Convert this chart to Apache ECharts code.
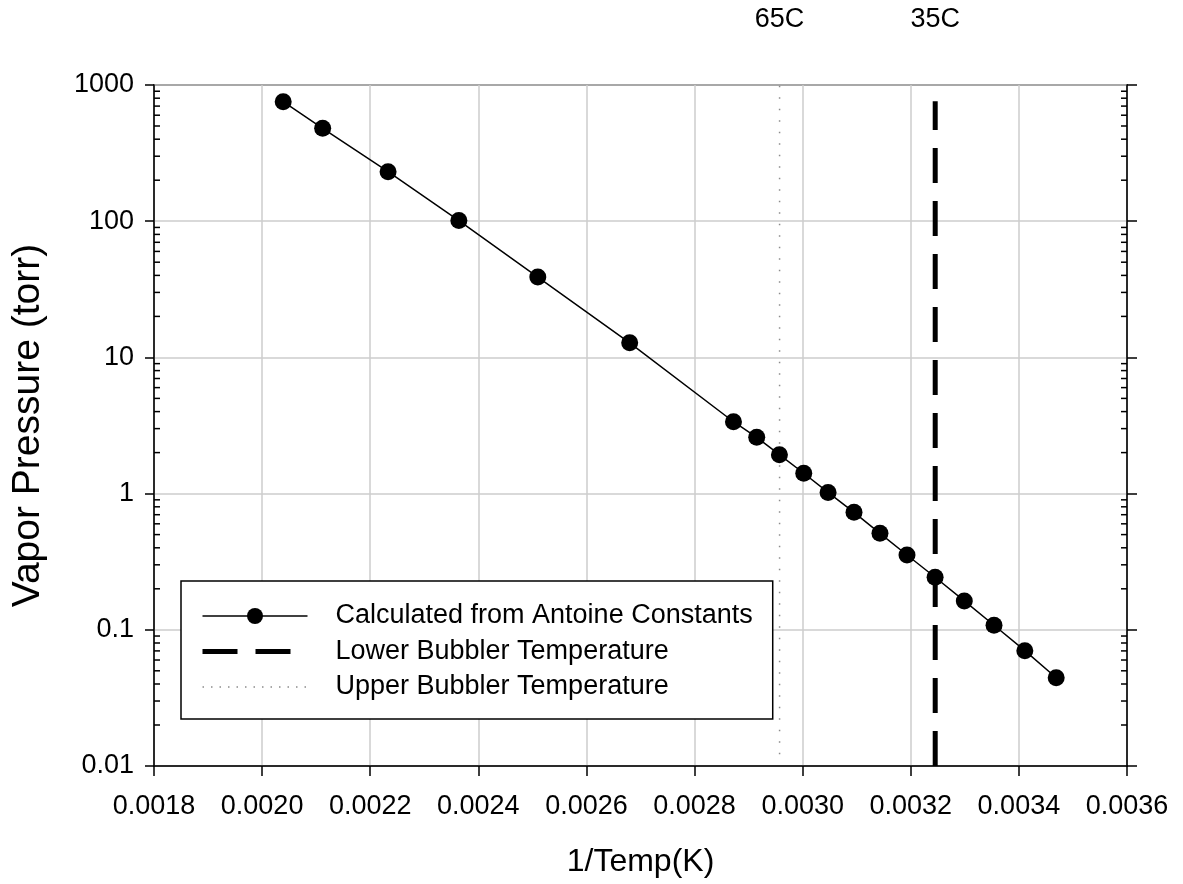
<!DOCTYPE html>
<html>
<head>
<meta charset="utf-8">
<script src="https://cdn.jsdelivr.net/npm/echarts@6/dist/echarts.min.js"></script>
<style>
html,body{margin:0;padding:0;background:#fff;}
#chart{width:1183px;height:884px;}
</style>
</head>
<body>
<div id="chart"></div>
<script>
// ---- data ----
const invTemp = [0.002039, 0.002112, 0.002233, 0.002364, 0.002510, 0.002680, 0.002872, 0.002915, 0.002957, 0.003002, 0.003047, 0.003095, 0.003143, 0.003193, 0.003245, 0.003299, 0.003354, 0.003411, 0.003469];
const vaporPressure = [754, 481, 231, 101, 38.9, 12.8, 3.37, 2.59, 1.93, 1.41, 1.02, 0.729, 0.511, 0.354, 0.243, 0.163, 0.108, 0.0703, 0.0445];

const upperBubblerX = 0.0029573;   // 65C
const upperBubblerY = [0.0122, 1000];
const lowerBubblerX = 0.0032452;   // 35C
const lowerBubblerY = [0.01, 760];

const markerLabels = ['65C', '35C'];
const markerX = [upperBubblerX, lowerBubblerX];

const seriesNames = ['Calculated from Antoine Constants', 'Lower Bubbler Temperature', 'Upper Bubbler Temperature'];
const yDecades = [0.01, 0.1, 1, 10, 100];
const minorFactors = [2, 3, 4, 5, 6, 7, 8, 9];

const X_MIN = 0.0018, X_MAX = 0.0036, Y_MIN = 0.01, Y_MAX = 1000;

const minorTickValues = [];
yDecades.forEach(d => minorFactors.forEach(f => minorTickValues.push(d * f)));

const FONT = '"Liberation Sans", Arial, Helvetica, sans-serif';

const chart = echarts.init(document.getElementById('chart'), null, {renderer: 'canvas'});

const option = {
  backgroundColor: '#fff',
  animation: false,
  textStyle: {fontFamily: FONT, color: '#000'},
  grid: {left: 154, right: 56, top: 85, bottom: 118, show: true, borderColor: '#000', borderWidth: 1.5, backgroundColor: 'transparent'},
  legend: {
    data: [
      {name: seriesNames[0], lineStyle: {width: 1.5}},
      {name: seriesNames[1], lineStyle: {width: 5}, itemStyle: {color: 'rgba(0,0,0,0)', borderWidth: 0}},
      {name: seriesNames[2], lineStyle: {width: 1.5, type: [1.5, 7]}, itemStyle: {color: 'rgba(0,0,0,0)', borderWidth: 0}}
    ],
    orient: 'vertical',
    left: 181, top: 581,
    backgroundColor: '#fff',
    borderColor: '#000',
    borderWidth: 1.5,
    borderRadius: 0,
    padding: [21.5, 20, 18.5, 19],
    itemWidth: 105,
    itemHeight: 20,
    itemGap: 8.5,
    selectedMode: false,
    textStyle: {fontFamily: FONT, fontSize: 27, color: '#000', padding: [0, 0, 0, 23]}
  },
  xAxis: [{
    type: 'value',
    min: X_MIN, max: X_MAX, interval: 0.0002,
    position: 'bottom',
    name: '1/Temp(K)',
    nameLocation: 'middle',
    nameGap: 80,
    nameTextStyle: {fontFamily: FONT, fontSize: 32, color: '#000'},
    axisLine: {show: true, lineStyle: {color: '#000', width: 1.5}},
    axisTick: {show: true, inside: false, length: 10, lineStyle: {color: '#000', width: 1.5}},
    axisLabel: {margin: 27, fontFamily: FONT, fontSize: 27, color: '#000', formatter: v => v.toFixed(4)},
    splitLine: {show: true, lineStyle: {color: '#cccccc', width: 1.5}}
  }],
  yAxis: [{
    type: 'log',
    logBase: 10,
    min: Y_MIN, max: Y_MAX,
    position: 'left',
    name: 'Vapor Pressure (torr)',
    nameLocation: 'middle',
    nameGap: 106,
    nameTextStyle: {fontFamily: FONT, fontSize: 39, color: '#000'},
    axisLine: {show: true, lineStyle: {color: '#000', width: 1.5}},
    axisTick: {show: true, inside: false, length: 9, lineStyle: {color: '#000', width: 1.5}},
    axisLabel: {margin: 20, fontFamily: FONT, fontSize: 27, color: '#000', formatter: v => String(Number(v.toPrecision(3)))},
    splitLine: {show: true, lineStyle: {color: '#cccccc', width: 1.5}}
  }, {
    type: 'log',
    logBase: 10,
    min: Y_MIN, max: Y_MAX,
    position: 'right',
    axisLine: {show: true, lineStyle: {color: '#000', width: 1.5}},
    axisTick: {show: true, inside: false, length: 10, lineStyle: {color: '#000', width: 1.5}},
    axisLabel: {show: false},
    splitLine: {show: false}
  }],
  series: [
    {
      name: seriesNames[0],
      type: 'line',
      data: invTemp.map((x, i) => [x, vaporPressure[i]]),
      symbol: 'circle',
      symbolSize: 17,
      lineStyle: {color: '#000', width: 1.5},
      itemStyle: {color: '#000'},
      z: 4
    },
    {
      name: seriesNames[1],
      type: 'line',
      data: lowerBubblerY.map(y => [lowerBubblerX, y]),
      symbol: 'none',
      lineStyle: {color: '#000', width: 5, type: [35, 18]},
      itemStyle: {color: '#000'},
      z: 3
    },
    {
      name: seriesNames[2],
      type: 'line',
      data: upperBubblerY.map(y => [upperBubblerX, y]),
      symbol: 'none',
      lineStyle: {color: '#8c8c8c', width: 1.5, type: [1.5, 10]},
      itemStyle: {color: '#8c8c8c'},
      z: 3
    },
    {
      name: 'minorTicks',
      type: 'custom',
      clip: false,
      silent: true,
      dimensions: ['v'],
      encode: {y: 0},
      data: minorTickValues.map(v => [v]),
      renderItem: function (params, api) {
        const v = api.value(0);
        const pl = api.coord([X_MIN, v]);
        const pr = api.coord([X_MAX, v]);
        const st = {stroke: '#000', lineWidth: 1.5};
        return {
          type: 'group',
          children: [
            {type: 'line', shape: {x1: pl[0], y1: pl[1], x2: pl[0] + 6, y2: pl[1]}, style: st},
            {type: 'line', shape: {x1: pr[0] - 6, y1: pr[1], x2: pr[0], y2: pr[1]}, style: st}
          ]
        };
      },
      z: 6
    }
  ]
};

chart.setOption(option);

// temperature labels above the plot, placed at the vertical lines' x positions
const topLabels = markerX.map((x, i) => {
  const p = chart.convertToPixel({xAxisIndex: 0, yAxisIndex: 0}, [x, Y_MAX]);
  return {
    type: 'text',
    x: p[0],
    y: 20,
    silent: true,
    style: {text: markerLabels[i], fill: '#000', font: '27px ' + FONT, align: 'center', verticalAlign: 'middle'}
  };
});
chart.setOption({graphic: topLabels});
</script>
</body>
</html>
